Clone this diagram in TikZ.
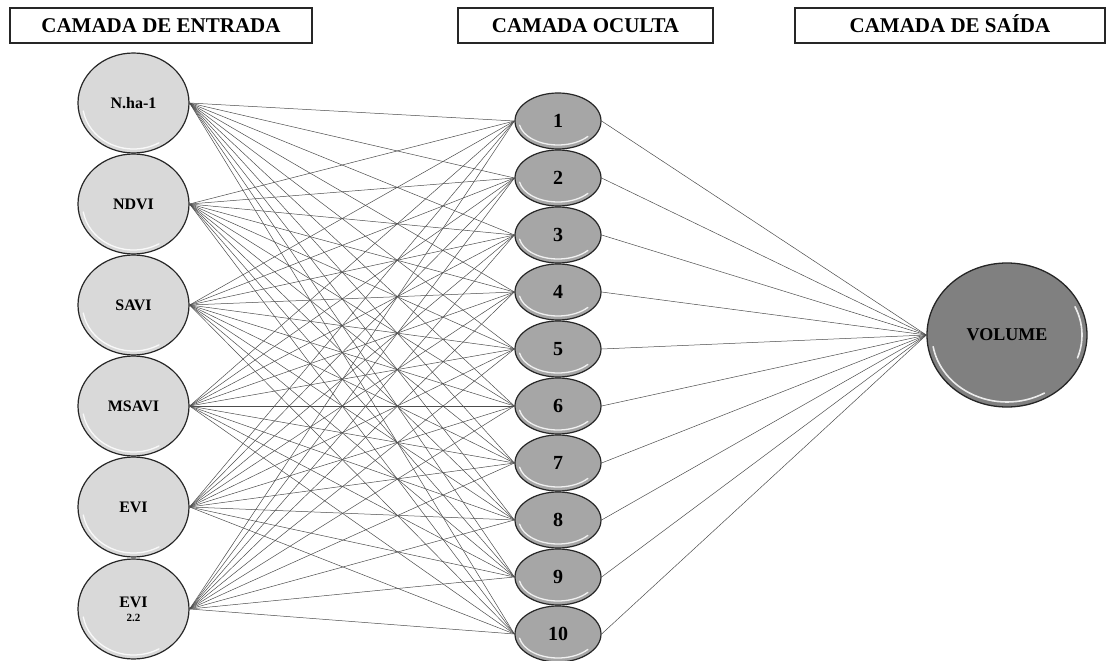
\documentclass[tikz,border=0pt]{standalone}
\usepackage{fontspec}
\setmainfont{Liberation Serif}
\usetikzlibrary{shapes.geometric}
\begin{document}
\begin{tikzpicture}[x=1pt,y=-1pt,
  titlebox/.style={draw=black!85, line width=1.1pt, minimum height=35pt, inner sep=0pt,
    text height=14pt, text depth=0pt, font=\bfseries\fontsize{21}{24}\selectfont},
  inp/.style={ellipse, draw=black!85, line width=1.2pt, fill=black!15, inner sep=0pt,
    minimum width=111pt, minimum height=100pt, align=center,
    font=\bfseries\fontsize{16}{17}\selectfont},
  hid/.style={ellipse, draw=black!85, line width=1.2pt, fill=black!35, inner sep=0pt,
    minimum width=86pt, minimum height=56pt, font=\bfseries\fontsize{20}{22}\selectfont},
  outn/.style={ellipse, draw=black!85, line width=1.3pt, fill=black!50, inner sep=0pt,
    minimum width=160pt, minimum height=144pt, font=\bfseries\fontsize{18}{20}\selectfont},
  conn/.style={draw=black!70, line width=0.5pt},
  glint/.style={draw=white, line width=1.3pt, opacity=0.85, line cap=round}
]
\useasboundingbox (0,0) rectangle (1112,661);

% titles
\node[titlebox, minimum width=302pt] (t1) at (161,25.5) {CAMADA DE ENTRADA};
\node[titlebox, minimum width=255pt] (t2) at (585.5,25.5) {CAMADA OCULTA};
\node[titlebox, minimum width=310pt] (t3) at (950,25.5) {CAMADA DE SAÍDA};

% input nodes
\node[inp] (i1) at (133.5,103) {N.ha-1};
\node[inp] (i2) at (133.5,204) {NDVI};
\node[inp] (i3) at (133.5,305) {SAVI};
\node[inp] (i4) at (133.5,406) {MSAVI};
\node[inp] (i5) at (133.5,507) {EVI};
\node[inp] (i6) at (133.5,609) {EVI\\[-3pt]{\fontsize{11}{12}\selectfont 2.2}};

% hidden nodes
\foreach \j in {1,...,10}{
  \node[hid] (h\j) at (558,{121+57*(\j-1)}) {\j};
}

% output
\node[outn] (out) at (1007,335) {VOLUME};

% highlights
\foreach \i in {1,...,6}{
  \draw[glint] (i\i.center) ++(60:51 and 46) arc[start angle=60,end angle=170,x radius=51,y radius=46];
}
\foreach \j in {1,...,10}{
  \draw[glint] (h\j.center) ++(40:39 and 24) arc[start angle=40,end angle=170,x radius=39,y radius=24];
}
\draw[glint, line width=1.6pt] (out.center) ++(60:75 and 67) arc[start angle=60,end angle=170,x radius=75,y radius=67];
\draw[glint, line width=1.6pt] (out.center) ++(-25:75 and 67) arc[start angle=-25,end angle=20,x radius=75,y radius=67];

% connectors
\foreach \i in {1,...,6}{
  \foreach \j in {1,...,10}{
    \draw[conn] (i\i.east) -- (h\j.west);
  }
}
\foreach \j in {1,...,10}{
  \draw[conn] (h\j.east) -- (out.west);
}
\end{tikzpicture}
\end{document}
